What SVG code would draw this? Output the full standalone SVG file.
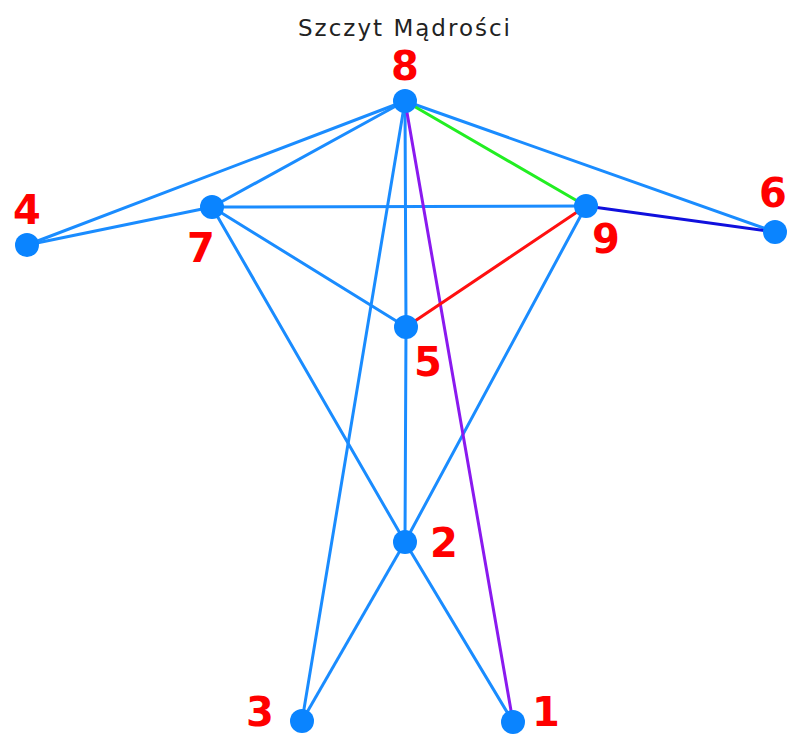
<svg xmlns="http://www.w3.org/2000/svg" width="788" height="736" viewBox="0 0 788 736">
<style>
.e{stroke:#1a8cff;stroke-width:3;fill:none;stroke-linecap:round}
.n{fill:#0a84ff}
.l{fill:#ff0000;font-family:"DejaVu Sans",Verdana,sans-serif;font-weight:bold;font-size:40px;text-anchor:middle}
.t{fill:#222;font-family:"DejaVu Sans",sans-serif;font-size:23px}
</style>
<rect width="788" height="736" fill="#fff"/>
<text class="t" x="298" y="36" textLength="212" lengthAdjust="spacing">Szczyt Mądrości</text>
<g id="connectors">
<line class="e" x1="405" y1="101" x2="27" y2="245"/>
<line class="e" x1="405" y1="101" x2="212" y2="207"/>
<line class="e" x1="405" y1="101" x2="775" y2="232"/>
<line class="e" x1="405" y1="101" x2="406" y2="327"/>
<line class="e" x1="405" y1="101" x2="302" y2="721"/>
<line class="e" x1="27" y1="245" x2="212" y2="207"/>
<line class="e" x1="212" y1="207" x2="586" y2="206"/>
<line class="e" x1="212" y1="207" x2="406" y2="327"/>
<line class="e" x1="406" y1="327" x2="405" y2="542"/>
<line class="e" x1="212" y1="207" x2="405" y2="542"/>
<line class="e" x1="405" y1="542" x2="513" y2="722"/>
<line class="e" x1="586" y1="206" x2="405" y2="542"/>
<line class="e" x1="405" y1="542" x2="302" y2="721"/>
<line class="e" x1="405" y1="101" x2="586" y2="206" style="stroke:#22ee22"/>
<line class="e" x1="405" y1="101" x2="513" y2="722" style="stroke:#8a1aef"/>
<line class="e" x1="586" y1="206" x2="775" y2="232" style="stroke:#1010dd"/>
<line class="e" x1="586" y1="206" x2="406" y2="327" style="stroke:#ff1010"/>
</g>
<g id="node8"><circle class="n" cx="405" cy="101" r="12"/><text class="l" x="405" y="80">8</text></g>
<g id="node4"><circle class="n" cx="27" cy="245" r="12"/><text class="l" x="27" y="224">4</text></g>
<g id="node7"><circle class="n" cx="212" cy="207" r="12"/><text class="l" x="201" y="262">7</text></g>
<g id="node9"><circle class="n" cx="586" cy="206" r="12"/><text class="l" x="606" y="253">9</text></g>
<g id="node6"><circle class="n" cx="775" cy="232" r="12"/><text class="l" x="773" y="207">6</text></g>
<g id="node5"><circle class="n" cx="406" cy="327" r="12"/><text class="l" x="428" y="376">5</text></g>
<g id="node2"><circle class="n" cx="405" cy="542" r="12"/><text class="l" x="444" y="557">2</text></g>
<g id="node3"><circle class="n" cx="302" cy="721" r="12"/><text class="l" x="260" y="726">3</text></g>
<g id="node1"><circle class="n" cx="513" cy="722" r="12"/><text class="l" x="546" y="726">1</text></g>
</svg>
